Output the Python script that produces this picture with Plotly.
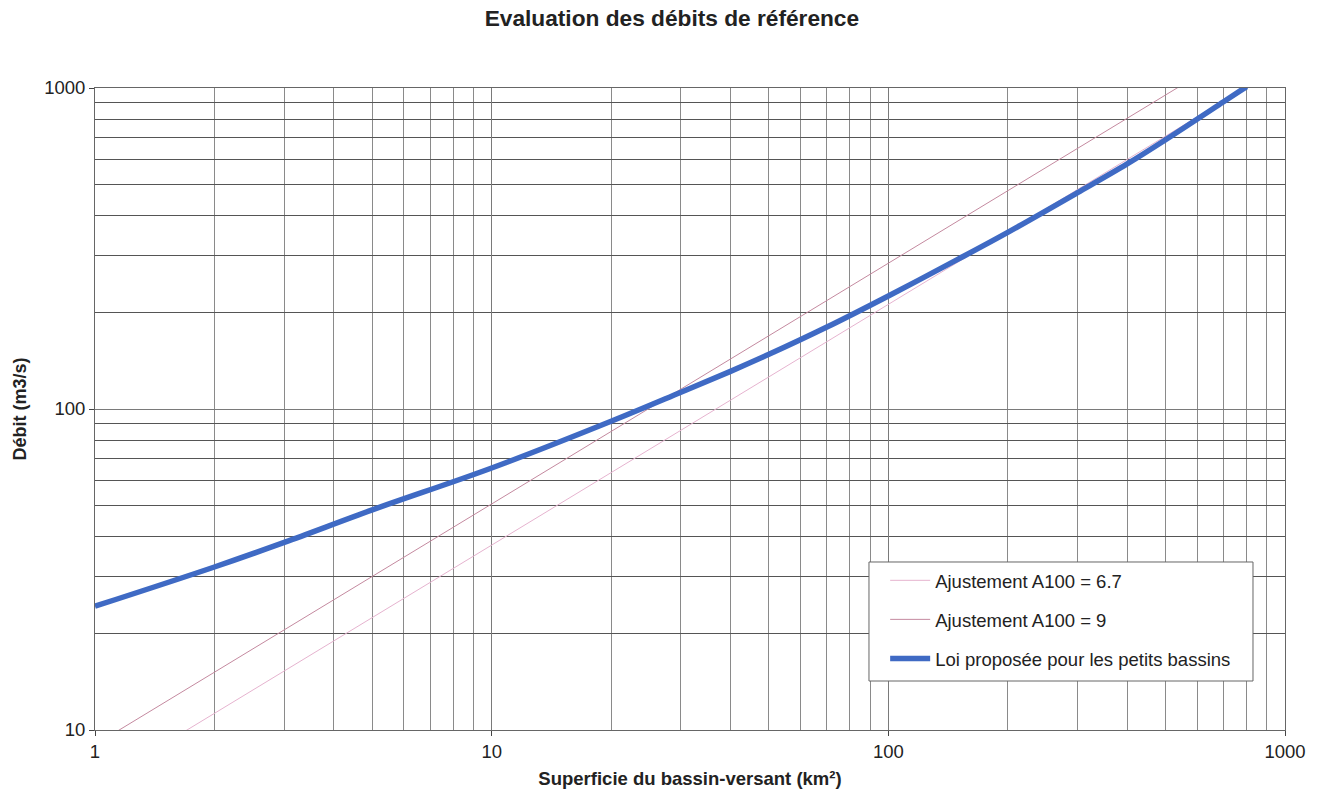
import plotly.graph_objects as go

# Data
fit_area = [1, 10, 100, 1000]                    # km²
fit_q_a67 = [6.7, 37.7, 212, 1191]               # m3/s, Ajustement A100 = 6.7
fit_q_a9 = [9, 50.6, 285, 1600]                  # m3/s, Ajustement A100 = 9

loi_area = [1, 2, 3, 5, 10, 20, 30, 40, 50, 70, 100, 150, 200, 300, 400, 500, 700, 800]
loi_q = [24.3, 32.2, 38.4, 48.5, 65.5, 91.6, 112.8, 131, 148, 180, 225, 293, 355, 472, 580, 690, 906, 1010]

x_major = [1, 10, 100, 1000]
x_major_text = ["1", "10", "100", "1000"]
y_major = [10, 100, 1000]
y_major_text = ["10", "100", "1000"]
minor_vals = [m * d for d in [1, 10, 100] for m in range(2, 10)]
y_minor_vals = [m * d for d in [10, 100] for m in range(2, 10)]

FONT = "Liberation Sans, Arial, sans-serif"

fig = go.Figure()
fig.add_trace(go.Scatter(x=fit_area, y=fit_q_a67, mode="lines", name="Ajustement A100 = 6.7",
                         line=dict(color="#e6b3cf", width=1), legendgroup="a"))
fig.add_trace(go.Scatter(x=fit_area, y=fit_q_a9, mode="lines", name="Ajustement A100 = 9",
                         line=dict(color="#c4899f", width=1), legendgroup="b"))
fig.add_trace(go.Scatter(x=loi_area, y=loi_q, mode="lines", name="Loi proposée pour les petits bassins",
                         line=dict(color="#3f6ac4", width=5.5, shape="spline", smoothing=1.0),
                         legendgroup="c"))

axis_common = dict(
    type="log", showgrid=True, gridcolor="#7a7a7a", gridwidth=1,
    showline=True, linecolor="#666666", linewidth=1, mirror=True,
    ticks="outside", ticklen=5, tickcolor="#444444",
    tickfont=dict(family=FONT, size=18.5, color="#222222"),
    zeroline=False,
)

fig.update_xaxes(**axis_common, range=[0, 3], tickvals=x_major, ticktext=x_major_text,
                 minor=dict(tickvals=minor_vals, showgrid=True, gridcolor="#8a8a8a", gridwidth=1, ticks=""),
                 title=dict(text="<b>Superficie du bassin-versant (km²)</b>",
                            font=dict(family=FONT, size=18.5, color="#222222"), standoff=10))
fig.update_yaxes(**axis_common, range=[1, 3], tickvals=y_major, ticktext=y_major_text,
                 minor=dict(tickvals=y_minor_vals, showgrid=True, gridcolor="#555555", gridwidth=1, ticks=""),
                 title=dict(text="<b>Débit (m3/s)</b>",
                            font=dict(family=FONT, size=18, color="#222222"), standoff=12))

# legend frame (white box with grey border, hides grid behind the legend)
fig.add_shape(type="rect", xref="paper", yref="paper",
              x0=0.6504, x1=0.9731, y0=0.0763, y1=0.2617,
              line=dict(color="#666666", width=1), fillcolor="white", layer="above")

fig.update_layout(
    width=1320, height=803,
    margin=dict(l=95, r=35, t=88, b=73),
    paper_bgcolor="white", plot_bgcolor="white",
    title=dict(text="<b>Evaluation des débits de référence</b>", x=0.509, xanchor="center",
               y=0.9776, yanchor="middle", yref="container",
               font=dict(family=FONT, size=22.7, color="#222222")),
    legend=dict(x=0.664, y=0.262, xanchor="left", yanchor="top",
                bgcolor="rgba(255,255,255,0)", borderwidth=0,
                font=dict(family=FONT, size=18.5, color="#222222"),
                tracegroupgap=12, itemwidth=40),
    showlegend=True,
)

fig.write_html("out.html", config={"displayModeBar": False},
               post_script="document.body.style.margin='0';document.body.style.overflow='hidden';")
